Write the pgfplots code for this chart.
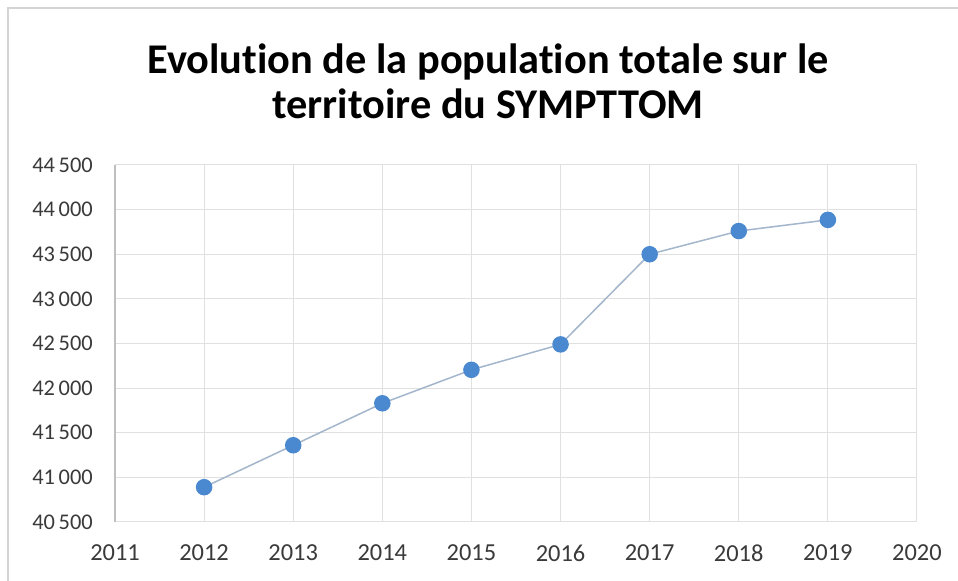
\documentclass[border=0pt]{standalone}
\usepackage{pgfplots}
\pgfplotsset{compat=1.18}
\usepackage{fontspec}
\setmainfont[Ligatures={NoCommon}]{Carlito}
\definecolor{gridc}{HTML}{E0E0E0}
\definecolor{axisc}{HTML}{BFBFBF}
\definecolor{bordc}{HTML}{D4D4D4}
\definecolor{markc}{HTML}{4A88CF}
\definecolor{linec}{HTML}{A3B6CC}
\definecolor{tickc}{HTML}{3A3A3A}
\begin{document}
\begin{tikzpicture}[x=1bp,y=1bp]
\path[use as bounding box] (-115,-59) rectangle (843,522);
\fill[white] (-115,-59) rectangle (843,522);
\draw[color=bordc, line width=1.5bp] (-107,-70) -- (-107,514) -- (850,514);
\node[align=center, font=\fontsize{42.5}{45}\selectfont\bfseries, text=black] at (373,441) {Evolution de la population totale sur le\\territoire du SYMPTTOM};
\begin{axis}[
  at={(0,0)}, anchor=south west,
  scale only axis, width=802bp, height=357bp,
  xmin=2011, xmax=2020, ymin=40500, ymax=44500,
  xtick={2011,2012,...,2020},
  ytick={40500,41000,...,44500},
  scaled ticks=false,
  grid=major,
  major grid style={color=gridc, line width=1bp},
  axis lines=left,
  axis line style={-},
  x axis line style={draw=gridc, line width=1bp},
  y axis line style={draw=axisc, line width=1.5bp},
  major tick length=0pt,
  /pgf/number format/assume math mode=true,
  xticklabel style={/pgf/number format/1000 sep={}, anchor=center, inner sep=0pt, yshift=-31bp, font=\fontsize{24.5}{28}\selectfont, text=tickc},
  yticklabel style={/pgf/number format/1000 sep={\,}, anchor=east, inner sep=0pt, xshift=-22bp, font=\fontsize{22.5}{26}\selectfont, text=tickc},
  clip=false,
]
\addplot[color=linec, line width=1.5bp, mark=*, mark size=7.5bp, mark options={fill=markc, draw=markc}] coordinates {
  (2012,40890) (2013,41360) (2014,41830) (2015,42205)
  (2016,42490) (2017,43500) (2018,43760) (2019,43885)
};
\end{axis}
\end{tikzpicture}
\end{document}
